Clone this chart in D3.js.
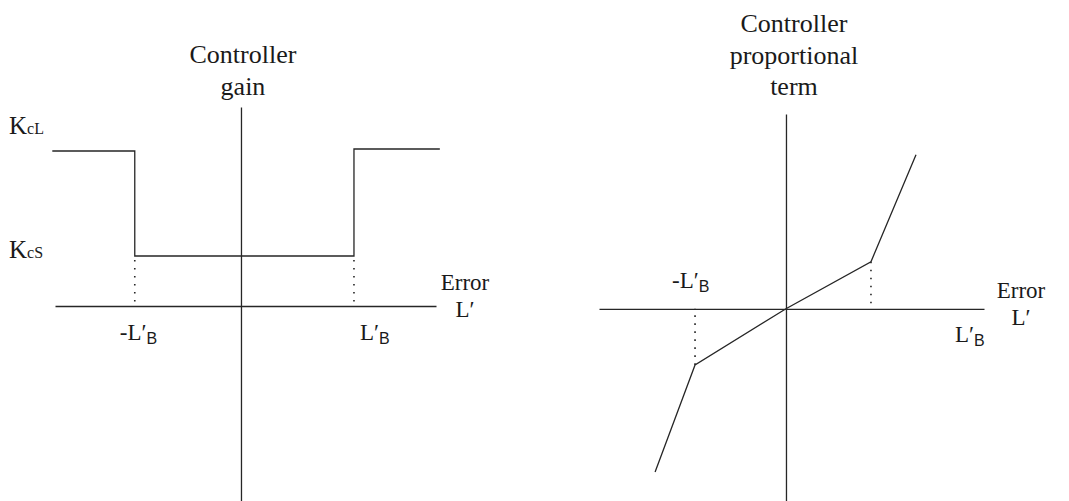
<!DOCTYPE html>
<html>
<head>
<meta charset="utf-8">
<script src="https://cdn.jsdelivr.net/npm/d3@7"></script>
<style>
  html, body { margin: 0; padding: 0; background: #fff; }
  svg text { font-family: "Liberation Serif", "Times New Roman", serif; fill: #1a1a1a; }
</style>
</head>
<body>
<div id="chart"></div>
<script>
// gain curve (left): error L' (units of L'B) vs controller gain (units of KcS)
const gainPoints = [[-1.67, 3.1], [-0.94, 3.1], [-0.94, 1], [1, 1], [1, 3.14], [1.76, 3.14]];
const gainBreaks = [-0.94, 1];
const gainLevels = { KcL: 3.1, KcS: 1 };
// proportional term (right): error vs controller output
const propPoints = [[-1.54, -1.92], [-1.07, -0.66], [0, 0], [1, 0.553], [1.53, 1.81]];
const propBreaks = [[-1.07, -0.66], [1, 0.553]];
const leftTitle = ["Controller", "gain"];
const rightTitle = ["Controller", "proportional", "term"];

const width = 1069, height = 501;
const ink = "#262626";

const svg = d3.select("#chart").append("svg")
    .attr("width", width)
    .attr("height", height)
    .attr("viewBox", [0, 0, width, height]);

// scales
const xL = d3.scaleLinear([-1.646, 1.726], [55, 436]);
const yL = d3.scaleLinear([-3.9, 3.98], [501, 107]);
const xR = d3.scaleLinear([-2.2, 2.33], [599, 984]);
const yR = d3.scaleLinear([-2.26, 2.29], [501, 114]);

function drawAxes(x, y){
    svg.append("g")
        .attr("transform", `translate(0,${y(0)})`)
        .call(d3.axisBottom(x).ticks(0).tickSizeOuter(0))
        .call(g => g.select(".domain").attr("stroke", ink).attr("stroke-width", 1.3));
    svg.append("g")
        .attr("transform", `translate(${x(0)},0)`)
        .call(d3.axisLeft(y).ticks(0).tickSizeOuter(0))
        .call(g => g.select(".domain").attr("stroke", ink).attr("stroke-width", 1.3));
}

function title(lines, cx, y0){
    svg.append("text")
        .attr("text-anchor", "middle")
        .attr("font-size", 26)
        .selectAll("tspan")
        .data(lines)
        .join("tspan")
          .attr("x", cx)
          .attr("y", (d, i) => y0 + i * 31.5)
          .text(d => d);
}

function lbLabel(x, y, minus){
    const t = svg.append("text")
        .attr("x", x).attr("y", y)
        .attr("font-size", 23);
    t.append("tspan").text((minus ? "-" : "") + "L\u2032");
    t.append("tspan").attr("font-size", 16).attr("dy", 4).attr("font-family", "Liberation Sans, Arial, sans-serif").text("B");
}

function errorLabel(cx, y){
    svg.append("text")
        .attr("text-anchor", "middle")
        .attr("font-size", 23)
        .selectAll("tspan")
        .data(["Error", "L\u2032"])
        .join("tspan")
          .attr("x", cx)
          .attr("y", (d, i) => y + i * 27)
          .text(d => d);
}

const line = (x, y) => d3.line().x(d => x(d[0])).y(d => y(d[1]));

// ---- left panel : controller gain
drawAxes(xL, yL);
svg.append("g")
    .selectAll("line")
    .data(gainBreaks)
    .join("line")
      .attr("x1", d => xL(d)).attr("x2", d => xL(d))
      .attr("y1", yL(gainLevels.KcS) + 4).attr("y2", yL(0))
      .attr("stroke", ink)
      .attr("stroke-width", 1.6)
      .attr("stroke-dasharray", "1.6,6.4");
svg.append("path")
    .attr("d", line(xL, yL)(gainPoints))
    .attr("fill", "none")
    .attr("stroke", ink)
    .attr("stroke-width", 1.3);

title(leftTitle, xL(0) + 2, 63);
// K labels
[["cL", 134], ["cS", 258]].forEach(([sub, by]) => {
    const t = svg.append("text").attr("x", 9).attr("y", by).attr("font-size", 25);
    t.append("tspan").text("K");
    t.append("tspan").attr("font-size", 16).text(sub);
});
lbLabel(xL(gainBreaks[0]) - 15, 340, true);
lbLabel(xL(gainBreaks[1]) + 6, 340, false);
errorLabel(465, 290);

// ---- right panel : proportional term
drawAxes(xR, yR);
svg.append("g")
    .selectAll("line")
    .data(propBreaks)
    .join("line")
      .attr("x1", d => xR(d[0])).attr("x2", d => xR(d[0]))
      .attr("y1", d => yR(d[1])).attr("y2", yR(0))
      .attr("stroke", ink)
      .attr("stroke-width", 1.6)
      .attr("stroke-dasharray", "1.6,6.4");
svg.append("path")
    .attr("d", line(xR, yR)(propPoints))
    .attr("fill", "none")
    .attr("stroke", ink)
    .attr("stroke-width", 1.3);

title(rightTitle, xR(0) + 8, 32);
lbLabel(672, 288, true);
lbLabel(955, 342, false);
errorLabel(1021, 298);
</script>
</body>
</html>
